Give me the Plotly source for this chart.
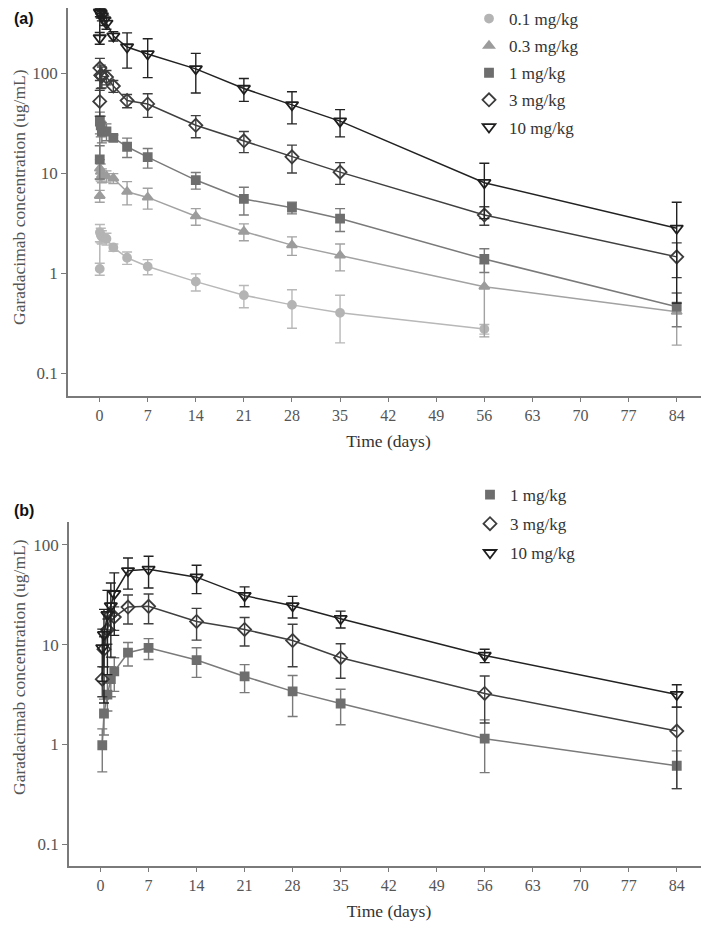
import plotly.graph_objects as go

# ---------------- Panel (a) data ----------------
a_doses = ["0.1 mg/kg", "0.3 mg/kg", "1 mg/kg", "3 mg/kg", "10 mg/kg"]

a_t_01 = [0.02, 0.04, 0.17, 0.33, 1, 2, 4, 7, 14, 21, 28, 35, 56]
a_y_01 = [1.1, 2.55, 2.4, 2.3, 2.2, 1.8, 1.42, 1.16, 0.82, 0.6, 0.48, 0.4, 0.275]
a_e_01 = [0.15, 0.5, 0.4, 0.35, 0.3, 0.15, 0.2, 0.2, 0.16, 0.15, 0.2, 0.2, 0.03]

a_t_03 = [0.02, 0.04, 0.17, 0.33, 1, 2, 4, 7, 14, 21, 28, 35, 56, 84]
a_y_03 = [5.9, 11.1, 10.3, 9.5, 9.3, 8.85, 6.5, 5.7, 3.7, 2.6, 1.9, 1.5, 0.73, 0.41]
a_e_03 = [0.8, 2.5, 2.0, 1.5, 1.2, 1.0, 1.7, 1.35, 0.7, 0.5, 0.4, 0.45, 0.5, 0.22]

a_t_1 = [0.02, 0.04, 0.17, 0.33, 1, 2, 4, 7, 14, 21, 28, 35, 56, 84]
a_y_1 = [13.7, 32.6, 30, 26, 26, 22.5, 18.3, 14.4, 8.5, 5.5, 4.5, 3.5, 1.38, 0.46]
a_e_1 = [5, 8, 7, 6, 5, 1.5, 4, 3.2, 1.6, 1.7, 0.6, 0.9, 0.37, 0.17]

a_t_3 = [0.02, 0.04, 0.17, 0.33, 1, 2, 4, 7, 14, 21, 28, 35, 56, 84]
a_y_3 = [52, 112, 95, 93, 91, 74, 53, 49, 30, 21, 14.5, 10.2, 3.8, 1.45]
a_e_3 = [15, 28, 25, 22, 15, 10, 8, 13, 7.5, 5, 4.5, 2.5, 0.8, 0.55]

a_t_10 = [0.02, 0.04, 0.17, 0.33, 0.67, 1, 2, 4, 7, 14, 21, 28, 35, 56, 84]
a_y_10 = [224, 405, 395, 372, 339, 314, 234, 182, 155, 110, 70, 48, 33, 8.0, 2.8]
a_e_10 = [30, 40, 40, 40, 40, 40, 25, 70, 65, 47, 18, 17, 10, 4.5, 2.3]

# ---------------- Panel (b) data ----------------
b_doses = ["1 mg/kg", "3 mg/kg", "10 mg/kg"]

b_t = [0.25, 0.5, 1, 1.5, 2, 4, 7, 14, 21, 28, 35, 56, 84]
b_y_1 = [0.98, 2.04, 3.16, 4.5, 5.4, 8.3, 9.3, 7.0, 4.8, 3.4, 2.57, 1.14, 0.61]
b_e_1 = [0.45, 0.8, 1.0, 1.5, 2.0, 2.2, 2.2, 2.3, 1.5, 1.5, 1.0, 0.62, 0.25]
b_y_3 = [4.5, 9.0, 14.1, 20, 18.9, 23.8, 24.2, 17.1, 14.2, 11.0, 7.4, 3.24, 1.36]
b_e_3 = [1.5, 3.0, 4.0, 6.0, 5.0, 7.7, 8.0, 6.0, 4.5, 5.0, 2.8, 1.6, 1.0]
b_y_10 = [9.3, 12.6, 20, 24.5, 32.4, 55, 57, 47.5, 31, 24.5, 18.2, 7.8, 3.16]
b_e_10 = [5, 10, 15, 17, 20, 19, 20, 15, 7, 6, 3.5, 1.2, 0.8]

x_ticks = list(range(0, 85, 7))
y_tickvals = [0.1, 1, 10, 100]
y_ticktext = ["0.1", "1", "10", "100"]
y_title = "Garadacimab concentration (ug/mL)"

# ---------------- styles ----------------
styles = {
    "0.1 mg/kg": dict(symbol="circle", color="#b4b4b4", line="#b8b8b8", size=8),
    "0.3 mg/kg": dict(symbol="triangle-up", color="#9c9c9c", line="#a2a2a2", size=9),
    "1 mg/kg": dict(symbol="square", color="#6e6e6e", line="#7a7a7a", size=8),
    "3 mg/kg": dict(symbol="diamond-open", color="#3c3c3c", line="#404040", size=10),
    "10 mg/kg": dict(symbol="triangle-down-open", color="#1e1e1e", line="#222222", size=11),
}

fig = go.Figure()


def add_series(name, t, y, e, xa, ya, legend):
    s = styles[name]
    fig.add_trace(go.Scatter(
        x=t, y=y, mode="lines", xaxis=xa, yaxis=ya,
        line=dict(color=s["line"], width=1.5), showlegend=False, hoverinfo="skip"))
    fig.add_trace(go.Scatter(
        x=t, y=y, mode="markers", name=name, xaxis=xa, yaxis=ya, legend=legend,
        legendgroup=legend + name,
        marker=dict(symbol=s["symbol"], color=s["color"], size=s["size"],
                    line=dict(color=s["color"], width=1.8)),
        error_y=dict(type="data", array=e, visible=True, color=s["line"],
                     thickness=1.4, width=5)))


a_sets = [(a_t_01, a_y_01, a_e_01), (a_t_03, a_y_03, a_e_03), (a_t_1, a_y_1, a_e_1),
          (a_t_3, a_y_3, a_e_3), (a_t_10, a_y_10, a_e_10)]
for name, (t, y, e) in zip(a_doses, a_sets):
    add_series(name, t, y, e, "x", "y", "legend")

b_sets = [(b_y_1, b_e_1), (b_y_3, b_e_3), (b_y_10, b_e_10)]
for name, (y, e) in zip(b_doses, b_sets):
    add_series(name, b_t, y, e, "x2", "y2", "legend2")

# page has an 8px body margin: figure pixel = reference pixel - 8
W, H = 701, 924


def PX(p):
    return (p - 8) / W


def PY(p):
    return 1 - (p - 8) / H


serif = "Liberation Serif"
gray = "#555555"
axcol = "#7a7a7a"

xcommon = dict(range=[-4.6, 88.7], tickvals=x_ticks, showline=True, linecolor=axcol,
               linewidth=1.5, ticks="outside", ticklen=4, tickcolor=axcol, showgrid=False,
               zeroline=False, tickfont=dict(family=serif, size=16, color=gray),
               title=dict(text="Time (days)", font=dict(family=serif, size=17.5, color="#333333"),
                          standoff=12))
ycommon = dict(type="log", tickvals=y_tickvals, ticktext=y_ticktext, showline=True,
               linecolor=axcol, linewidth=1.5, ticks="outside", ticklen=5, tickcolor=axcol,
               showgrid=False, zeroline=False,
               tickfont=dict(family=serif, size=17, color=gray))

legfont = dict(family=serif, size=17, color="#333333")

fig.update_layout(
    width=W, height=H, autosize=False,
    margin=dict(l=0, r=0, t=0, b=0, autoexpand=False),
    paper_bgcolor="white", plot_bgcolor="white",
    xaxis=dict(domain=[PX(68), 1.0], anchor="y", **xcommon),
    yaxis=dict(domain=[PY(396), 1.0], anchor="x", range=[-1.23, 2.65], **ycommon),
    xaxis2=dict(domain=[PX(69), 1.0], anchor="y2", **xcommon),
    yaxis2=dict(domain=[PY(866), PY(522)], anchor="x2", range=[-1.22, 2.23], **ycommon),
    legend=dict(x=PX(469), y=PY(1), xanchor="left", yanchor="top", tracegroupgap=2,
                font=legfont, bgcolor="rgba(0,0,0,0)", itemwidth=30),
    legend2=dict(x=PX(470), y=PY(477), xanchor="left", yanchor="top", tracegroupgap=4,
                 font=legfont, bgcolor="rgba(0,0,0,0)", itemwidth=30),
    annotations=[
        dict(text="<b>(a)</b>", x=PX(12), y=PY(18), xref="paper", yref="paper",
             xanchor="left", yanchor="middle", showarrow=False,
             font=dict(family="Liberation Sans", size=16, color="#111111")),
        dict(text="<b>(b)</b>", x=PX(12), y=PY(510), xref="paper", yref="paper",
             xanchor="left", yanchor="middle", showarrow=False,
             font=dict(family="Liberation Sans", size=16, color="#111111")),
        dict(text=y_title, textangle=-90, x=PX(19), y=PY(197), xref="paper", yref="paper",
             xanchor="center", yanchor="middle", showarrow=False,
             font=dict(family=serif, size=17.5, color=gray)),
        dict(text=y_title, textangle=-90, x=PX(19), y=PY(667), xref="paper", yref="paper",
             xanchor="center", yanchor="middle", showarrow=False,
             font=dict(family=serif, size=17.5, color=gray)),
    ],
)

fig.write_html("out.html")
